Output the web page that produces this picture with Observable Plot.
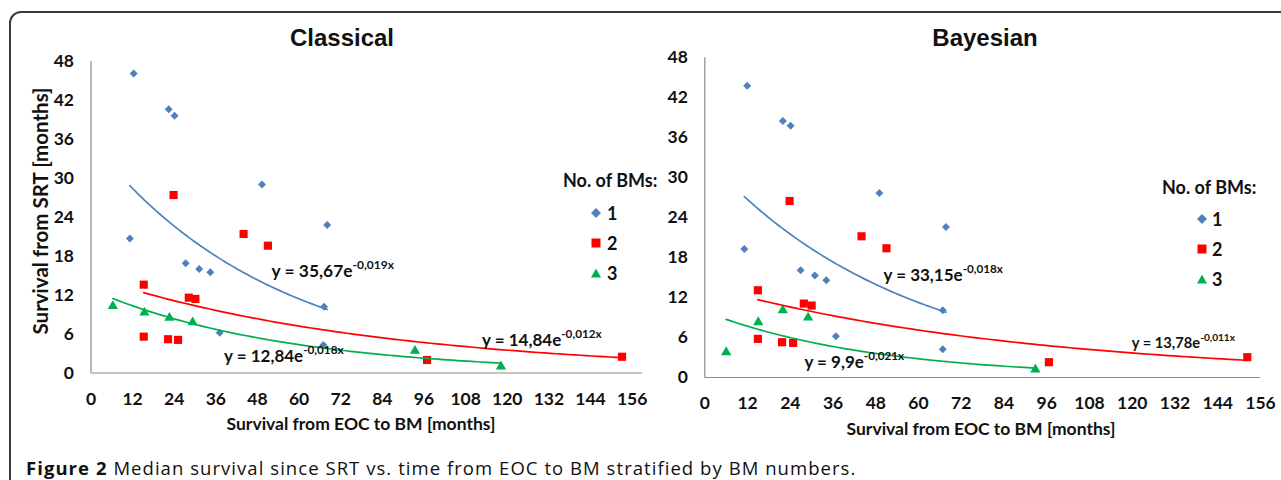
<!DOCTYPE html>
<html><head><meta charset="utf-8">
<script src="https://cdn.jsdelivr.net/npm/d3@7"></script>
<script src="https://cdn.jsdelivr.net/npm/@observablehq/plot@0.6"></script>
<style>
html,body{margin:0;padding:0;background:#fff;}
#wrap{position:relative;width:1281px;height:480px;overflow:hidden;font-family:Lato,sans-serif;color:#111;}
#frame{position:absolute;left:9px;top:11px;width:1320px;height:520px;border:2px solid #3a3a3a;border-radius:12px;box-sizing:border-box;}
.svgbox{position:absolute;top:0;}
.title{position:absolute;font-family:"Liberation Sans",Arial,sans-serif;font-weight:bold;font-size:24px;transform:translate(-50%,-50%);white-space:nowrap;}
.axt{position:absolute;font-family:Lato,sans-serif;font-weight:bold;font-size:17.5px;transform:translate(-50%,-50%);white-space:nowrap;}
.yt{position:absolute;font-family:Lato,sans-serif;font-weight:bold;font-size:20.5px;transform:translate(-50%,-50%) rotate(-90deg);white-space:nowrap;}
.eq{position:absolute;font-family:Lato,sans-serif;font-weight:bold;white-space:nowrap;}
.eq .sup{position:relative;}
.leg{position:absolute;font-family:Lato,sans-serif;font-weight:bold;font-size:18px;white-space:nowrap;line-height:18px;}
.cap{position:absolute;font-family:"Open Sans",sans-serif;font-size:18.5px;letter-spacing:1.05px;white-space:nowrap;color:#111;line-height:20px;}
</style>
</head><body>
<div id="wrap"><div id="frame"></div></div>
<script>
// ---------- data ----------
const xTicks = [0, 12, 24, 36, 48, 60, 72, 84, 96, 108, 120, 132, 144, 156];
const yTicks = [0, 6, 12, 18, 24, 30, 36, 42, 48];
const groupNames = ["1", "2", "3"];
const panelTitles = ["Classical", "Bayesian"];
const legendTitle = "No. of BMs:";
const xTitle = "Survival from EOC to BM [months]";
const yTitle = "Survival from SRT [months]";

const classicalX1 = [12.3, 22.4, 24.1, 49.3, 68.1, 11.2, 27.3, 31.2, 34.4, 37.1, 67.2, 67.0];
const classicalY1 = [46.1, 40.6, 39.6, 29.0, 22.8, 20.7, 16.9, 16.0, 15.5, 6.2, 10.2, 4.3];
const classicalX2 = [23.8, 44.0, 51.0, 15.2, 28.2, 30.1, 15.2, 22.2, 25.1, 96.9, 153.1];
const classicalY2 = [27.4, 21.4, 19.6, 13.6, 11.6, 11.4, 5.6, 5.2, 5.1, 2.0, 2.5];
const classicalX3 = [6.3, 15.4, 22.6, 29.3, 93.4, 118.2];
const classicalY3 = [10.3, 9.3, 8.5, 7.8, 3.4, 1.0];

const bayesX1 = [11.9, 21.9, 24.1, 49.0, 67.7, 11.1, 26.9, 30.9, 34.1, 36.8, 66.8, 66.8];
const bayesY1 = [43.8, 38.5, 37.8, 27.7, 22.6, 19.3, 16.1, 15.3, 14.6, 6.2, 10.1, 4.25];
const bayesX2 = [23.8, 44.0, 51.0, 14.9, 27.8, 30.0, 14.9, 21.7, 24.8, 96.6, 152.3];
const bayesY2 = [26.5, 21.2, 19.4, 13.1, 11.1, 10.8, 5.8, 5.3, 5.2, 2.3, 3.05];
const bayesX3 = [6.0, 15.0, 21.9, 29.0, 92.8];
const bayesY3 = [3.8, 8.3, 10.1, 9.0, 1.2];

// fitted exponential trend lines y = a * e^(b x), as printed on the chart
const classicalTrendA = [35.67, 14.84, 12.84];
const classicalTrendB = [-0.019, -0.012, -0.018];
const bayesTrendA = [33.15, 13.78, 9.9];
const bayesTrendB = [-0.018, -0.011, -0.021];
const classicalEqMain = ["y = 35,67e", "y = 14,84e", "y = 12,84e"];
const classicalEqExp = ["-0,019x", "-0,012x", "-0,018x"];
const bayesEqMain = ["y = 33,15e", "y = 13,78e", "y = 9,9e"];
const bayesEqExp = ["-0,018x", "-0,011x", "-0,021x"];

const captionBold = "Figure 2";
const captionText = " Median survival since SRT vs. time from EOC to BM stratified by BM numbers.";

// ---------- style / layout ----------
const colors = ["#4F81BD", "#FF0000", "#00B050"];
const symbols = ["diamond2", "square", "triangle"];
const symbolR = [3.6, 4.6, 3.8];
const axisColor = "#8c8c8c";
const tickFont = "17.5px";

const panels = [
  {left: 0, width: 645, xMax: 159, mL: 90.5, mR: 3, mT: 60.7, mB: 67.5,
   xs: [classicalX1, classicalX2, classicalX3], ys: [classicalY1, classicalY2, classicalY3],
   A: classicalTrendA, B: classicalTrendB, eqMain: classicalEqMain, eqExp: classicalEqExp,
   eqPos: [[52.2, 14.6], [112.9, 4.1], [38.5, 1.6]], eqSize: [17.4, 17, 17],
   titleXY: [342, 38], xtXY: [361, 423], ytXY: [40, 211],
   legTitle: [563, 171], legMarkX: 596, legY: [213, 243, 273], legTextX: 607},
  {left: 645, width: 636, xMax: 156, mL: 59.3, mR: 21, mT: 57.3, mB: 63,
   xs: [bayesX1, bayesX2, bayesX3], ys: [bayesY1, bayesY2, bayesY3],
   A: bayesTrendA, B: bayesTrendB, eqMain: bayesEqMain, eqExp: bayesEqExp,
   eqPos: [[50.3, 14.4], [120.0, 4.35], [28.1, 1.35]], eqSize: [17, 14.7, 17],
   titleXY: [985, 38], xtXY: [981, 428], ytXY: null,
   legTitle: [1162, 178], legMarkX: 1202, legY: [219, 249, 279], legTextX: 1212}
];

const wrap = document.getElementById("wrap");
function addDiv(cls, html, x, y, extra) {
  const d = document.createElement("div");
  d.className = cls; d.innerHTML = html;
  d.style.left = x + "px"; d.style.top = y + "px";
  if (extra) Object.assign(d.style, extra);
  wrap.appendChild(d); return d;
}
function markerSVG(i) {
  const c = colors[i];
  let shape;
  if (i === 0) shape = `<polygon points="6,1 11,6 6,11 1,6" fill="${c}"/>`;
  else if (i === 1) shape = `<rect x="1.5" y="1.5" width="9" height="9" fill="${c}"/>`;
  else shape = `<polygon points="6,1.5 11,10.5 1,10.5" fill="${c}"/>`;
  return `<svg width="12" height="12" style="display:block">${shape}</svg>`;
}

panels.forEach((p, pi) => {
  const marks = [
    Plot.ruleY([0], {x1: 0, x2: p.xMax, stroke: axisColor, strokeWidth: 1.2}),
    Plot.ruleX([0], {y1: 0, y2: 48, stroke: axisColor, strokeWidth: 1.2}),
    Plot.axisX(xTicks, {tickSize: 0, tickPadding: 19.5, label: null}),
    Plot.axisY(yTicks, {tickSize: 0, tickPadding: 17, label: null})
  ];
  groupNames.forEach((g, i) => {
    const pts = p.xs[i].map((x, k) => ({x, y: p.ys[i][k]}));
    marks.push(Plot.dot(pts, {x: "x", y: "y", symbol: symbols[i], fill: colors[i], r: symbolR[i], stroke: "none"}));
  });
  groupNames.forEach((g, i) => {
    const [x0, x1] = d3.extent(p.xs[i]);
    const n = 80;
    const curve = d3.range(n + 1).map(k => {
      const x = x0 + (x1 - x0) * k / n;
      return {x, y: p.A[i] * Math.exp(p.B[i] * x)};
    });
    marks.push(Plot.line(curve, {x: "x", y: "y", stroke: colors[i], strokeWidth: 1.7}));
  });
  const plot = Plot.plot({
    width: p.width, height: 440,
    marginLeft: p.mL, marginRight: p.mR, marginTop: p.mT, marginBottom: p.mB,
    x: {domain: [0, p.xMax], label: null},
    y: {domain: [0, 48], label: null},
    style: {fontFamily: "Lato, sans-serif", fontSize: tickFont, fontWeight: "bold", color: "#111", background: "transparent", overflow: "visible"},
    marks
  });
  const box = document.createElement("div");
  box.className = "svgbox"; box.style.left = p.left + "px";
  box.appendChild(plot);
  wrap.appendChild(box);

  const sx = plot.scale("x"), sy = plot.scale("y");
  // equations
  p.eqMain.forEach((m, i) => {
    const px = p.left + sx.apply(p.eqPos[i][0]);
    const py = sy.apply(p.eqPos[i][1]);
    const fs = p.eqSize[i];
    addDiv("eq", `${m}<span class="sup" style="font-size:${(fs*0.69).toFixed(1)}px;top:${(-fs*0.44).toFixed(1)}px">${p.eqExp[i]}</span>`,
      px, py - fs * 0.89, {fontSize: fs + "px", lineHeight: fs + "px"});
  });
  // titles
  addDiv("title", panelTitles[pi], p.titleXY[0], p.titleXY[1]);
  addDiv("axt", xTitle, p.xtXY[0], p.xtXY[1]);
  if (p.ytXY) addDiv("yt", yTitle, p.ytXY[0], p.ytXY[1]);
  // legend
  addDiv("leg", legendTitle, p.legTitle[0], p.legTitle[1]);
  groupNames.forEach((g, i) => {
    addDiv("leg", markerSVG(i), p.legMarkX - 6, p.legY[i] - 6);
    addDiv("leg", g, p.legTextX, p.legY[i] - 9);
  });
});

addDiv("cap", `<b>${captionBold}</b>${captionText}`, 26, 458);
</script>
</body></html>
